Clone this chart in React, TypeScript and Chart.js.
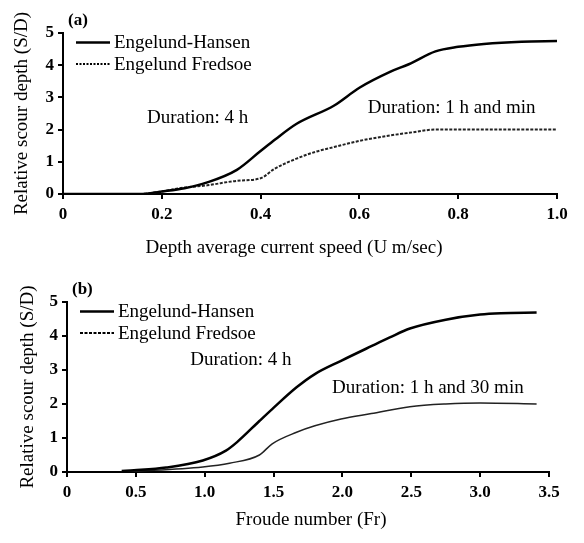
import React, { useEffect, useRef } from "react";
import { Chart, registerables } from "chart.js";

Chart.register(...registerables);

// ---- Panel (a): depth average current speed ----
const aEhX = [0, 0.155, 0.2, 0.246, 0.292, 0.352, 0.398, 0.43, 0.473, 0.549, 0.6, 0.663, 0.7, 0.754, 0.8, 0.852, 0.928, 1.0];
const aEhY = [0, 0, 0.08, 0.18, 0.36, 0.75, 1.31, 1.7, 2.18, 2.75, 3.3, 3.8, 4.03, 4.43, 4.57, 4.66, 4.73, 4.75];
const aEfX = [0, 0.155, 0.2, 0.246, 0.292, 0.352, 0.4, 0.428, 0.473, 0.511, 0.549, 0.6, 0.663, 0.7, 0.754, 0.8, 0.9, 1.0];
const aEfY = [0, 0, 0.08, 0.2, 0.27, 0.41, 0.49, 0.78, 1.1, 1.31, 1.46, 1.65, 1.82, 1.9, 2.0, 2.0, 2.0, 2.0];
const aTicksX = [0, 0.2, 0.4, 0.6, 0.8, 1.0];

// ---- Panel (b): Froude number ----
const bEhX = [0.397, 0.486, 0.72, 0.986, 1.154, 1.235, 1.397, 1.49, 1.667, 1.8, 1.99, 2.21, 2.34, 2.49, 2.75, 3.0, 3.15, 3.41];
const bEhY = [0.03, 0.05, 0.13, 0.34, 0.63, 0.88, 1.5, 1.85, 2.49, 2.88, 3.27, 3.7, 3.95, 4.22, 4.48, 4.63, 4.67, 4.69];
const bEfX = [0.397, 0.486, 0.986, 1.18, 1.397, 1.49, 1.667, 1.8, 1.99, 2.21, 2.49, 2.75, 3.0, 3.41];
const bEfY = [0.0, 0.02, 0.15, 0.26, 0.5, 0.83, 1.17, 1.36, 1.56, 1.72, 1.92, 2.0, 2.03, 2.0];
const bTicksX = [0, 0.5, 1.0, 1.5, 2.0, 2.5, 3.0, 3.5];

const ticksY = [0, 1, 2, 3, 4, 5];
const seriesNames = ["Engelund-Hansen", "Engelund Fredsoe"];
const yTitle = "Relative scour depth (S/D)";

const FONT = "'Liberation Serif', 'Times New Roman', serif";

const toPts = (xs: number[], ys: number[]) => xs.map((x, i) => ({ x, y: ys[i] }));

type PanelCfg = {
  height: number;
  label: string;
  ehX: number[]; ehY: number[];
  efX: number[]; efY: number[];
  efDash: number[]; efWidth: number; legendDash: number[];
  xMax: number; xTicks: number[];
  xTitle: string; xTitleCenter: number; xTitleY: number;
  yTitleX: number;
  left: number; right: number; top: number; bottom: number;
  notes: { text: string; x: number; y: number }[];
};

function makeChart(canvas: HTMLCanvasElement, cfg: PanelCfg) {
  const textPlugin = {
    id: "texts",
    afterDraw(chart: any) {
      const ctx = chart.ctx as CanvasRenderingContext2D;
      const ca = chart.chartArea;
      const xs = chart.scales.x;
      const ys = chart.scales.y;
      ctx.save();
      ctx.fillStyle = "#000";
      ctx.textBaseline = "middle";
      // panel label
      ctx.font = `bold 17px ${FONT}`;
      ctx.textAlign = "left";
      ctx.fillText(cfg.label, ca.left + 5, ca.top - 12);
      // legend
      ctx.font = `19px ${FONT}`;
      const rows = [ca.top + 9.5, ca.top + 31];
      rows.forEach((ry, i) => {
        ctx.beginPath();
        ctx.strokeStyle = "#000";
        ctx.lineWidth = i === 0 ? 2.5 : 2;
        ctx.setLineDash(i === 0 ? [] : cfg.legendDash);
        ctx.moveTo(ca.left + 13, ry);
        ctx.lineTo(ca.left + 47, ry);
        ctx.stroke();
        ctx.setLineDash([]);
        ctx.fillText(seriesNames[i], ca.left + 51, ry + 1);
      });
      // notes in data coordinates
      cfg.notes.forEach((n) => {
        ctx.fillText(n.text, xs.getPixelForValue(n.x), ys.getPixelForValue(n.y));
      });
      // x title
      ctx.textAlign = "center";
      ctx.fillText(cfg.xTitle, cfg.xTitleCenter, cfg.xTitleY);
      // y title
      ctx.translate(cfg.yTitleX, (ca.top + ca.bottom) / 2);
      ctx.rotate(-Math.PI / 2);
      ctx.fillText(yTitle, 0, 0);
      ctx.restore();
    },
  };

  const tickLabel = (v: any) => {
    const n = Number(v);
    return n === 0 ? "0" : n.toFixed(1);
  };

  return new Chart(canvas, {
    type: "line",
    data: {
      datasets: [
        {
          label: seriesNames[0],
          data: toPts(cfg.ehX, cfg.ehY),
          borderColor: "#000",
          borderWidth: 2.5,
          pointRadius: 0,
          cubicInterpolationMode: "monotone",
          fill: false,
        },
        {
          label: seriesNames[1],
          data: toPts(cfg.efX, cfg.efY),
          borderColor: "#222",
          borderWidth: cfg.efWidth,
          borderDash: cfg.efDash,
          pointRadius: 0,
          cubicInterpolationMode: "monotone",
          fill: false,
        },
      ],
    },
    options: {
      responsive: false,
      animation: false,
      devicePixelRatio: 1,
      layout: { padding: { left: 0, bottom: 0, top: cfg.top, right: cfg.right } },
      plugins: { legend: { display: false }, tooltip: { enabled: false } },
      scales: {
        x: {
          type: "linear",
          min: 0,
          max: cfg.xMax,
          afterBuildTicks: (scale: any) => {
            scale.ticks = cfg.xTicks.map((v) => ({ value: v }));
          },
          ticks: {
            callback: tickLabel,
            color: "#000",
            font: { family: FONT, size: 17, weight: "bold" },
            padding: 5,
            maxRotation: 0,
            autoSkip: false,
          },
          grid: { display: true, drawOnChartArea: false, drawTicks: true, tickLength: 5, color: "#000", lineWidth: 2 },
          border: { display: true, color: "#000", width: 2 },
          afterFit: (scale: any) => {
            scale.height = cfg.bottom;
          },
        },
        y: {
          type: "linear",
          min: 0,
          max: 5,
          afterBuildTicks: (scale: any) => {
            scale.ticks = ticksY.map((v) => ({ value: v }));
          },
          ticks: {
            color: "#000",
            font: { family: FONT, size: 17, weight: "bold" },
            padding: 4,
            autoSkip: false,
          },
          grid: { display: true, drawOnChartArea: false, drawTicks: true, tickLength: 5, color: "#000", lineWidth: 2 },
          border: { display: true, color: "#000", width: 2 },
          afterFit: (scale: any) => {
            scale.width = cfg.left;
          },
        },
      },
    } as any,
    plugins: [textPlugin],
  });
}

const panelA: PanelCfg = {
  height: 270,
  label: "(a)",
  ehX: aEhX, ehY: aEhY, efX: aEfX, efY: aEfY,
  efDash: [3, 1.5], efWidth: 2, legendDash: [2, 1.5],
  xMax: 1.0, xTicks: aTicksX,
  xTitle: "Depth average current speed (U m/sec)", xTitleCenter: 294, xTitleY: 248,
  yTitleX: 22,
  left: 63, right: 27, top: 33, bottom: 76,
  notes: [
    { text: "Duration: 4 h", x: 0.17, y: 2.36 },
    { text: "Duration: 1 h and min", x: 0.617, y: 2.67 },
  ],
};

const panelB: PanelCfg = {
  height: 273,
  label: "(b)",
  ehX: bEhX, ehY: bEhY, efX: bEfX, efY: bEfY,
  efDash: [], efWidth: 1.5, legendDash: [3, 1.5],
  xMax: 3.5, xTicks: bTicksX,
  xTitle: "Froude number (Fr)", xTitleCenter: 311, xTitleY: 250,
  yTitleX: 28,
  left: 67, right: 35, top: 32, bottom: 71,
  notes: [
    { text: "Duration: 4 h", x: 0.895, y: 3.29 },
    { text: "Duration: 1 h and 30 min", x: 1.925, y: 2.47 },
  ],
};

function Panel({ cfg }: { cfg: PanelCfg }) {
  const ref = useRef<HTMLCanvasElement | null>(null);
  useEffect(() => {
    if (!ref.current) return;
    const ch = makeChart(ref.current, cfg);
    return () => ch.destroy();
  }, [cfg]);
  return <canvas ref={ref} width={584} height={cfg.height} style={{ display: "block" }} />;
}

export default function App() {
  return (
    <div style={{ position: "absolute", left: 0, top: 0, width: 584, height: 543, background: "#fff" }}>
      <Panel cfg={panelA} />
      <Panel cfg={panelB} />
    </div>
  );
}
